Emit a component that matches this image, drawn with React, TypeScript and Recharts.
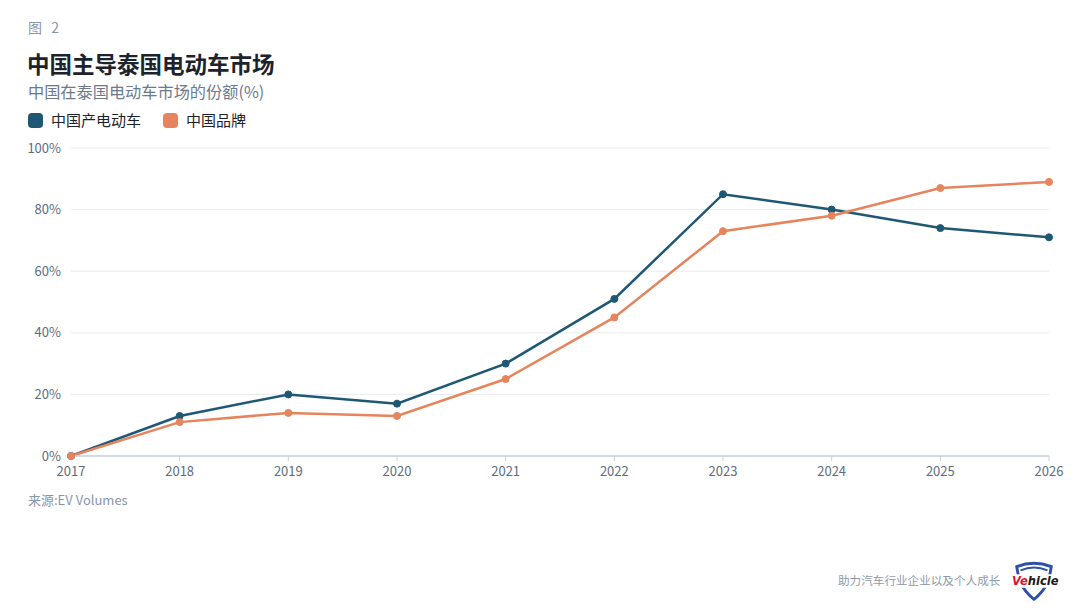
import { LineChart, Line, XAxis, YAxis, CartesianGrid } from 'recharts';

const years = ['2017', '2018', '2019', '2020', '2021', '2022', '2023', '2024', '2025', '2026'];
const madeInChina = [0, 13, 20, 17, 30, 51, 85, 80, 74, 71];
const chineseBrands = [0, 11, 14, 13, 25, 45, 73, 78, 87, 89];
const yTicks = [0, 20, 40, 60, 80, 100];

const SERIES = [
    { key: 'made', name: '中国产电动车', color: '#1f5874' },
    { key: 'brand', name: '中国品牌', color: '#e5845d' },
];

const FONT = '"Noto Sans CJK SC", "Noto Sans", sans-serif';

const data = years.map((year, i) => ({
    year,
    made: madeInChina[i],
    brand: chineseBrands[i],
}));

export default function App() {
    return (
        <div
            style={{
                position: 'absolute',
                left: 0,
                top: 0,
                width: 1080,
                height: 614,
                background: '#ffffff',
                fontFamily: FONT,
                overflow: 'hidden',
            }}
        >
            <div style={{ position: 'absolute', left: 28, top: 18, fontSize: 14, lineHeight: '18px', color: '#8a96a6', letterSpacing: 3 }}>
                图 2
            </div>
            <div style={{ position: 'absolute', left: 27, top: 51, fontSize: 22.5, lineHeight: '24px', fontWeight: 700, color: '#1c232c' }}>
                中国主导泰国电动车市场
            </div>
            <div style={{ position: 'absolute', left: 28, top: 82, fontSize: 16.2, lineHeight: '18px', color: '#6c7a8c' }}>
                中国在泰国电动车市场的份额(%)
            </div>
            <div style={{ position: 'absolute', left: 28, top: 110, display: 'flex', alignItems: 'center', gap: 22 }}>
                {SERIES.map((s) => (
                    <div key={s.key} style={{ display: 'flex', alignItems: 'center', gap: 8 }}>
                        <div style={{ width: 15, height: 15, borderRadius: 4, background: s.color }} />
                        <span style={{ fontSize: 15, lineHeight: '20px', color: '#1c232c' }}>{s.name}</span>
                    </div>
                ))}
            </div>

            <LineChart
                width={1080}
                height={614}
                data={data}
                margin={{ top: 148, right: 31, left: 28, bottom: 128 }}
                style={{ position: 'absolute', left: 0, top: 0 }}
            >
                <CartesianGrid vertical={false} stroke="#e8ecf1" strokeWidth={1} />
                <XAxis
                    dataKey="year"
                    height={30}
                    axisLine={{ stroke: '#c9d1db', strokeWidth: 1.5 }}
                    tickLine={{ stroke: '#c9d1db' }}
                    tickSize={5}
                    tickMargin={6}
                    tick={{ fill: '#5e6c7e', fontSize: 13, fontFamily: FONT }}
                    interval={0}
                />
                <YAxis
                    domain={[0, 100]}
                    ticks={yTicks}
                    width={43}
                    axisLine={false}
                    tickLine={false}
                    tickMargin={4}
                    tickFormatter={(v) => `${v}%`}
                    tick={{ fill: '#5e6c7e', fontSize: 13, fontFamily: FONT }}
                />
                {SERIES.map((s) => (
                    <Line
                        key={s.key}
                        dataKey={s.key}
                        name={s.name}
                        type="linear"
                        stroke={s.color}
                        strokeWidth={2.5}
                        dot={{ r: 3.5, fill: s.color, stroke: s.color, strokeWidth: 1 }}
                        activeDot={false}
                        isAnimationActive={false}
                    />
                ))}
            </LineChart>

            <div style={{ position: 'absolute', left: 28, top: 491, fontSize: 13, lineHeight: '18px', color: '#8a96a6' }}>
                来源:EV Volumes
            </div>
            <div style={{ position: 'absolute', left: 838, top: 572, fontSize: 11.6, lineHeight: '16px', color: '#8e99a8' }}>
                助力汽车行业企业以及个人成长
            </div>
            <svg width={50} height={44} viewBox="0 0 52 44" style={{ position: 'absolute', left: 1009, top: 560 }}>
                <path d="M8 6 Q26 -1 44 6 L41 22 Q34 34 26 40 Q18 34 11 22 Z" fill="none" stroke="#2f4fa8" strokeWidth={3} />
                <path d="M12 10 Q26 4 40 10" fill="none" stroke="#2f4fa8" strokeWidth={2} />
                <rect x={2} y={14} width={48} height={14} fill="#ffffff" />
                <text x={3} y={25} fontSize={12} fontWeight={700} fontStyle="italic" fontFamily="'DejaVu Sans', sans-serif">
                    <tspan fill="#d9182a">Ve</tspan>
                    <tspan fill="#1a1a1a">hicle</tspan>
                </text>
            </svg>
        </div>
    );
}
